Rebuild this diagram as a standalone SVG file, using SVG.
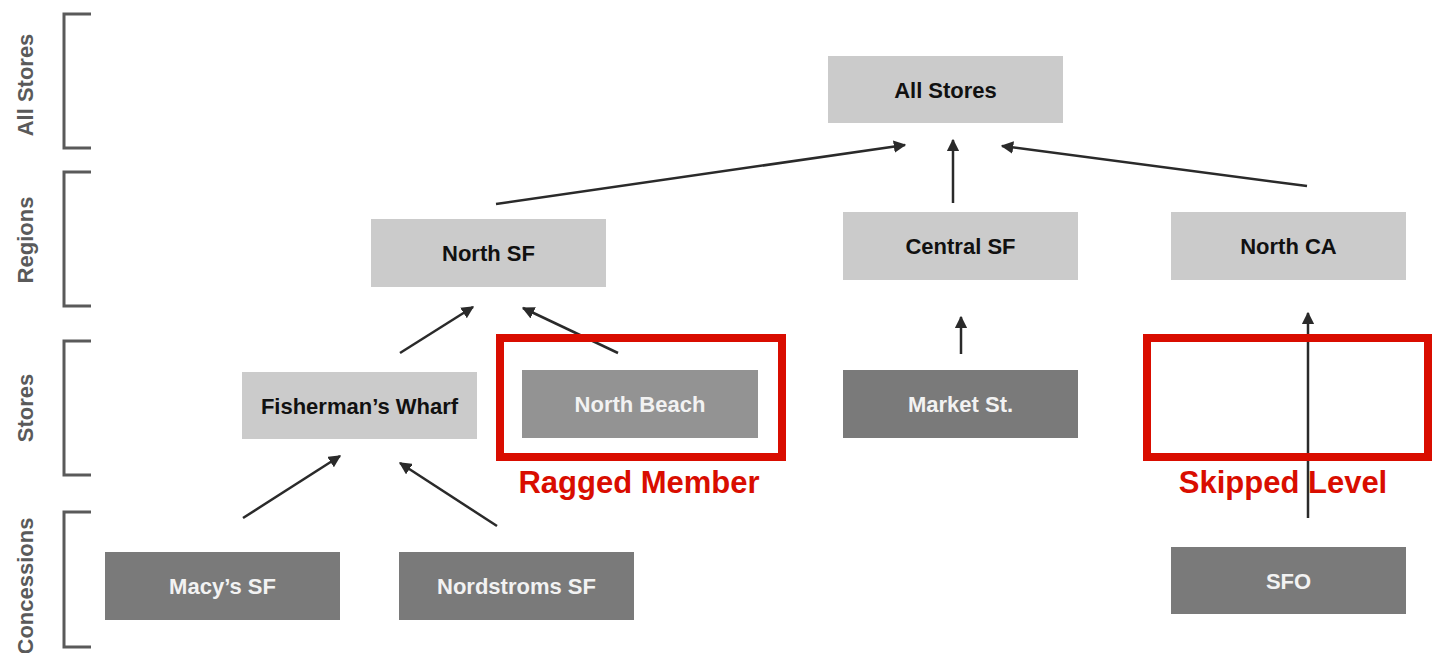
<svg xmlns="http://www.w3.org/2000/svg" width="1432" height="653" viewBox="0 0 1432 653">
<style>
.lvl{font-family:"Liberation Sans",Arial,sans-serif;font-weight:bold;font-size:22px;fill:#5a5a5a;text-anchor:middle}
.br{fill:none;stroke:#5a5a5a;stroke-width:3}
.light{fill:#cbcbcb}
.mid{fill:#939393}
.dark{fill:#7a7a7a}
.t{font-family:"Liberation Sans",Arial,sans-serif;font-weight:bold;font-size:22px;text-anchor:middle}
.tb{fill:#111}
.tw{fill:#f2f2f2}
.edge{stroke:#2a2a2a;stroke-width:2.5;fill:none;marker-end:url(#ah)}
.red{fill:none;stroke:#d90d00;stroke-width:8}
.rt{font-family:"Liberation Sans",Arial,sans-serif;font-weight:bold;font-size:31px;fill:#d90d00;text-anchor:middle}
</style>
<defs>
<marker id="ah" viewBox="0 0 10 10" refX="9" refY="5" markerWidth="5" markerHeight="5" orient="auto" markerUnits="strokeWidth">
<path d="M0,0 L10,5 L0,10 Z" fill="#2a2a2a"/>
</marker>
</defs>
<rect width="1432" height="653" fill="#fff"/>
<g id="levels">
<path class="br" d="M91,14 H64 V148 H91"/>
<path class="br" d="M91,172 H64 V306 H91"/>
<path class="br" d="M91,341 H64 V475 H91"/>
<path class="br" d="M91,512 H64 V647 H91"/>
<text class="lvl" transform="translate(33,85) rotate(-90)">All Stores</text>
<text class="lvl" transform="translate(33,240) rotate(-90)">Regions</text>
<text class="lvl" transform="translate(33,408) rotate(-90)">Stores</text>
<text class="lvl" transform="translate(33,586) rotate(-90)">Concessions</text>
</g>
<g id="connectors">
<line class="edge" x1="496" y1="204" x2="905" y2="145"/>
<line class="edge" x1="953" y1="203" x2="953" y2="140"/>
<line class="edge" x1="1307" y1="186" x2="1002" y2="146"/>
<line class="edge" x1="400" y1="353" x2="473" y2="307"/>
<line class="edge" x1="618" y1="353" x2="523" y2="308"/>
<line class="edge" x1="961" y1="354" x2="961" y2="317"/>
<line class="edge" x1="1308" y1="518" x2="1308" y2="313"/>
<line class="edge" x1="243" y1="518" x2="340" y2="456"/>
<line class="edge" x1="497" y1="526" x2="400" y2="463"/>
</g>
<g id="n-allstores"><rect class="light" x="828" y="56" width="235" height="67"/><text class="t tb" x="945.5" y="97.5">All Stores</text></g>
<g id="n-northsf"><rect class="light" x="371" y="219" width="235" height="68"/><text class="t tb" x="488.5" y="261">North SF</text></g>
<g id="n-centralsf"><rect class="light" x="843" y="212" width="235" height="68"/><text class="t tb" x="960.5" y="254">Central SF</text></g>
<g id="n-northca"><rect class="light" x="1171" y="212" width="235" height="68"/><text class="t tb" x="1288.5" y="254">North CA</text></g>
<g id="n-fishermans"><rect class="light" x="242" y="372" width="235" height="67"/><text class="t tb" x="359.5" y="413.5">Fisherman’s Wharf</text></g>
<g id="n-northbeach"><rect class="mid" x="522" y="370" width="236" height="68"/><text class="t tw" x="640" y="412">North Beach</text></g>
<g id="n-marketst"><rect class="dark" x="843" y="370" width="235" height="68"/><text class="t tw" x="960.5" y="412">Market St.</text></g>
<g id="n-macys"><rect class="dark" x="105" y="552" width="235" height="68"/><text class="t tw" x="222.5" y="594">Macy’s SF</text></g>
<g id="n-nordstroms"><rect class="dark" x="399" y="552" width="235" height="68"/><text class="t tw" x="516.5" y="594">Nordstroms SF</text></g>
<g id="n-sfo"><rect class="dark" x="1171" y="547" width="235" height="67"/><text class="t tw" x="1288.5" y="588.5">SFO</text></g>
<g id="ragged">
<rect class="red" x="500" y="338" width="282" height="119"/>
<text class="rt" x="639" y="493">Ragged Member</text>
</g>
<g id="skipped">
<rect class="red" x="1147" y="338" width="281" height="119"/>
<text class="rt" x="1283" y="493">Skipped Level</text>
</g>
</svg>
